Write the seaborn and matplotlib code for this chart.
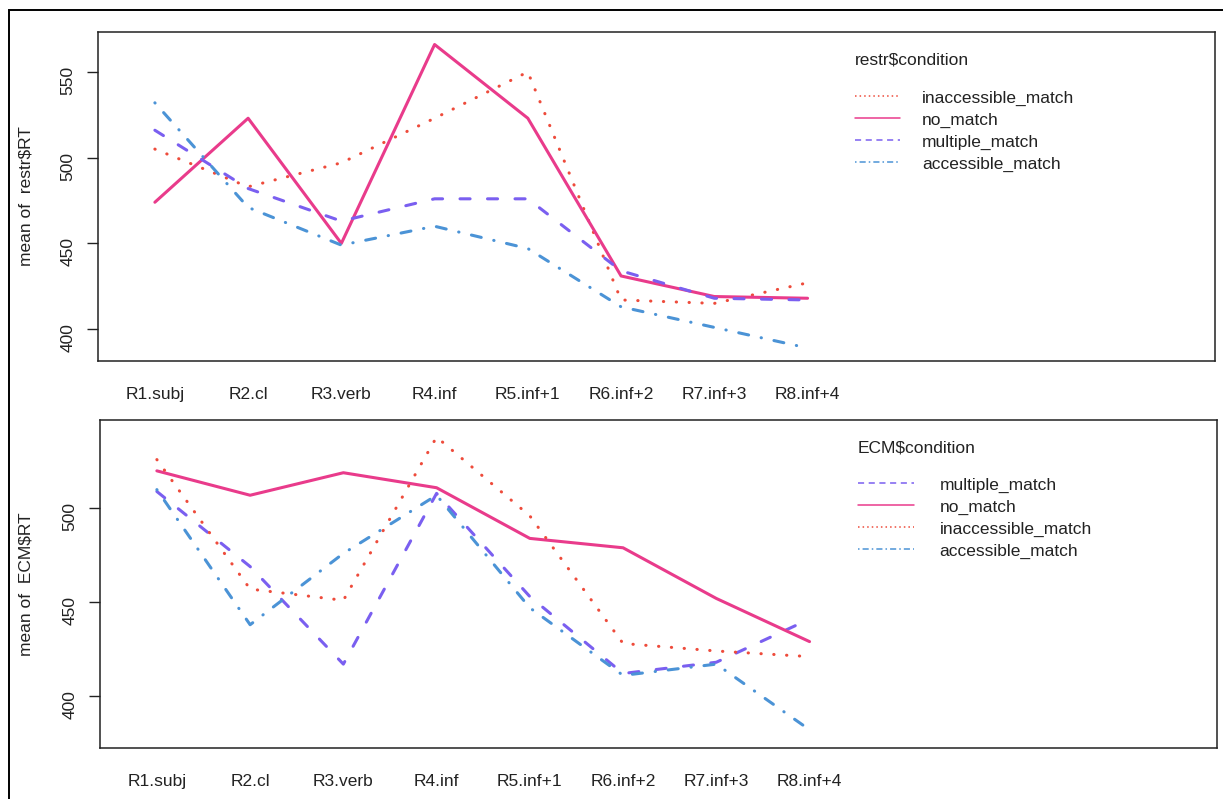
import pandas as pd
import seaborn as sns
import matplotlib.pyplot as plt
from matplotlib.lines import Line2D
from matplotlib.patches import Rectangle

# region labels on the x axis
regions = ["R1.subj", "R2.cl", "R3.verb", "R4.inf",
           "R5.inf+1", "R6.inf+2", "R7.inf+3", "R8.inf+4"]

# restr: mean RT per region
restr_inaccessible = [505, 483, 497, 523, 550, 417, 415, 427]
restr_no_match = [474, 523, 450, 566, 523, 431, 419, 418]
restr_multiple = [516, 482, 463, 476, 476, 434, 418, 417]
restr_accessible = [532, 471, 449, 460, 447, 413, 401, 389]

# ECM: mean RT per region
ecm_multiple = [509, 469, 417, 508, 453, 412, 418, 441]
ecm_no_match = [520, 507, 519, 511, 484, 479, 452, 429]
ecm_inaccessible = [526, 457, 451, 538, 496, 428, 424, 421]
ecm_accessible = [510, 438, 476, 507, 447, 411, 417, 382]

restr_order = ["inaccessible_match", "no_match", "multiple_match", "accessible_match"]
ecm_order = ["multiple_match", "no_match", "inaccessible_match", "accessible_match"]

colors = {
    "inaccessible_match": "#EE4B3B",
    "no_match": "#E93B8B",
    "multiple_match": "#7A5FF0",
    "accessible_match": "#4B93D6",
}
# dash patterns (round caps are applied afterwards)
dashes = {
    "inaccessible_match": (0.1, 4.1),
    "no_match": "",
    "multiple_match": (3.3, 5.7),
    "accessible_match": (0.1, 4.2, 3.3, 4.2),
}
legend_dashes = {
    "inaccessible_match": (1, 2),
    "no_match": "",
    "multiple_match": (4, 3),
    "accessible_match": (1, 2, 4, 2),
}

FS = 12.5


def make_frame(series):
    rows = []
    for cond, vals in series.items():
        for i, v in enumerate(vals):
            rows.append({"pos": i + 1, "RT": v, "condition": cond})
    return pd.DataFrame(rows)


restr_df = make_frame({
    "inaccessible_match": restr_inaccessible,
    "no_match": restr_no_match,
    "multiple_match": restr_multiple,
    "accessible_match": restr_accessible,
})
ecm_df = make_frame({
    "multiple_match": ecm_multiple,
    "no_match": ecm_no_match,
    "inaccessible_match": ecm_inaccessible,
    "accessible_match": ecm_accessible,
})

sns.set_style("white")
plt.rcParams["font.family"] = ["Liberation Sans", "DejaVu Sans"]

W, H = 1223, 799
fig = plt.figure(figsize=(W / 100, H / 100), dpi=100)

# outer frame of the screenshot
fig.patches.append(Rectangle((9 / W, -0.05), 1.5, 1 - 10 / H + 0.05, fill=False,
                             lw=1.4, ec="black", transform=fig.transFigure))


def panel(box, df, order, ylim, yticks, ylabel, title, legend_box, hlen, hpad):
    l, t, r, b = box
    ax = fig.add_axes([l / W, 1 - b / H, (r - l) / W, (b - t) / H])
    sns.lineplot(data=df, x="pos", y="RT", hue="condition", style="condition",
                 hue_order=order, style_order=order, palette=colors,
                 dashes=dashes, linewidth=2.2, legend=False, ax=ax)
    for ln in ax.lines:
        ln.set_dash_capstyle("round")
        ln.set_solid_capstyle("round")
        ln.set_solid_joinstyle("round")

    ax.set_xlim(0.39, 12.37)
    ax.set_ylim(*ylim)
    ax.set_xticks(range(1, len(regions) + 1))
    ax.set_xticklabels(regions)
    ax.set_yticks(yticks)
    ax.tick_params(axis="x", length=0, pad=18.5, labelsize=FS, colors="#222222")
    ax.tick_params(axis="y", length=8, width=1, pad=8, labelsize=FS,
                   labelrotation=90, left=True, colors="#222222")
    ax.set_xlabel("")
    ax.set_ylabel(ylabel, fontsize=FS, color="#222222")
    ax.yaxis.set_label_coords((34 - l) / (r - l), 0.5)
    for sp in ax.spines.values():
        sp.set_linewidth(1.1)
        sp.set_color("#222222")

    handles = [Line2D([], [], color=colors[c], lw=1.1, dashes=legend_dashes[c]
                      if legend_dashes[c] else (None, None)) for c in order]
    leg = ax.legend(handles, order, title=title, loc="upper left",
                    bbox_to_anchor=legend_box, bbox_transform=fig.transFigure,
                    frameon=False, fontsize=FS, title_fontsize=FS,
                    borderpad=0, borderaxespad=0, handlelength=hlen,
                    handletextpad=hpad, labelspacing=0.39, alignment="left")
    for txt in leg.get_texts():
        txt.set_color("#222222")
    leg.get_title().set_color("#222222")
    leg._legend_box.sep = 16
    return ax


panel((98, 32, 1215, 361), restr_df, restr_order, (381.4, 573.3), [400, 450, 500, 550],
      r"mean of  restr\$RT", r"restr\$condition", (855 / W, 1 - 53 / H), 2.6, 1.25)
panel((100, 420, 1217, 748), ecm_df, ecm_order, (372.3, 547.1), [400, 450, 500],
      r"mean of  ECM\$RT", r"ECM\$condition", (858 / W, 1 - 440 / H), 3.2, 1.5)

fig.savefig("out.png", dpi=100)
